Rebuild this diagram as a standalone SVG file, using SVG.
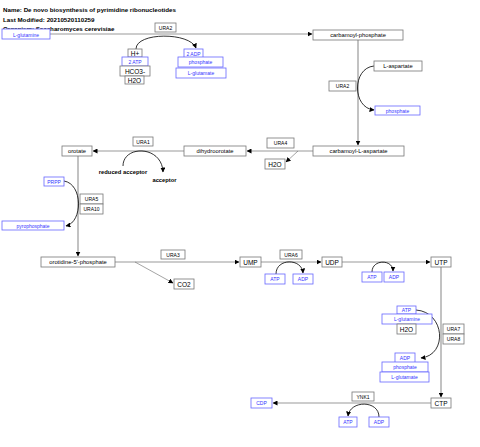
<svg xmlns="http://www.w3.org/2000/svg" width="480" height="447" viewBox="0 0 480 447">
<style>
rect{fill:#fff;stroke:#777;stroke-width:0.8}
rect.b{stroke:#6666ff}
text{font-family:"Liberation Sans",Arial,sans-serif;font-size:5px;text-anchor:middle;fill:#000}
text.bt{fill:#3333ff}
text.m{font-size:5.8px}
text.l{font-size:6.5px}
text.t{font-size:6.2px;font-weight:bold;text-anchor:start}
text.bold{font-size:5.8px;font-weight:bold}
.main{fill:none;stroke:#999;stroke-width:1.2}
.thin{fill:none;stroke:#666;stroke-width:0.6}
.cur{fill:none;stroke:#000;stroke-width:0.8}
</style>
<defs>
<marker id="a" viewBox="0 0 10 10" refX="9" refY="5" markerWidth="5" markerHeight="5" orient="auto" markerUnits="userSpaceOnUse"><path d="M0,0L10,5L0,10z" fill="#000"/></marker>
</defs>
<rect x="0" y="0" width="480" height="447" style="fill:#fff;stroke:none"/>
<g id="title">
<text class="t" x="3" y="12">Name: De novo biosynthesis of pyrimidine ribonucleotides</text>
<text class="t" x="3" y="22">Last Modified: 20210520110259</text>
<text class="t" x="3" y="31">Organism: Saccharomyces cerevisiae</text>
</g>
<g id="connectors">
<path class="main" d="M50,34H312" marker-end="url(#a)"/>
<path class="cur" d="M136,49C136,32 190,32 196,48" marker-end="url(#a)"/>
<path class="main" d="M358,40V145" marker-end="url(#a)"/>
<path class="cur" d="M374,66C352,68 352,108 374,110" marker-end="url(#a)"/>
<path class="main" d="M313,151H247" marker-end="url(#a)"/>
<path class="thin" d="M298,151L286,162" marker-end="url(#a)"/>
<path class="main" d="M184,151H93" marker-end="url(#a)"/>
<path class="cur" d="M123,166C123,145 162,145 163,172" marker-end="url(#a)"/>
<path class="main" d="M78,156V256" marker-end="url(#a)"/>
<path class="cur" d="M64,181C83,184 83,222 66,226" marker-end="url(#a)"/>
<path class="main" d="M115,262H239" marker-end="url(#a)"/>
<path class="thin" d="M135,262L173,283" marker-end="url(#a)"/>
<path class="main" d="M261,262H321" marker-end="url(#a)"/>
<path class="cur" d="M276,274C276,258 302,258 303,273" marker-end="url(#a)"/>
<path class="main" d="M342,262H430" marker-end="url(#a)"/>
<path class="cur" d="M372,272C372,259 393,259 393,271" marker-end="url(#a)"/>
<path class="main" d="M441,267V397" marker-end="url(#a)"/>
<path class="cur" d="M416,310C445,312 448,355 421,358" marker-end="url(#a)"/>
<path class="main" d="M431,403H273" marker-end="url(#a)"/>
<path class="cur" d="M379,417C379,400 350,400 348,416" marker-end="url(#a)"/>
</g>
<g id="L-glutamine-top"><rect class="b" x="2" y="29" width="48" height="10"/><text class="bt" x="26" y="36.5">L-glutamine</text></g>
<g id="URA2-a"><rect x="155" y="23" width="21" height="9"/><text x="165.5" y="29.5">URA2</text></g>
<g id="Hplus"><rect x="128" y="49" width="14" height="8"/><text class="l" x="135" y="55.5">H+</text></g>
<g id="ATP2"><rect class="b" x="122" y="57" width="26" height="9"/><text class="bt" x="135" y="63.5">2 ATP</text></g>
<g id="HCO3"><rect x="120" y="66" width="30" height="10"/><text class="l" x="135" y="73.5">HCO3-</text></g>
<g id="H2O-a"><rect x="125" y="76" width="19" height="8"/><text class="l" x="134.5" y="82.5">H2O</text></g>
<g id="ADP2"><rect class="b" x="184" y="49" width="19" height="9"/><text class="bt" x="193.5" y="55.5">2 ADP</text></g>
<g id="phosphate-a"><rect class="b" x="178" y="57" width="45" height="10"/><text class="bt" x="200.5" y="64">phosphate</text></g>
<g id="L-glutamate-a"><rect class="b" x="176" y="68" width="50" height="10"/><text class="bt" x="201" y="75">L-glutamate</text></g>
<g id="carbamoyl-phosphate"><rect x="313" y="30" width="90" height="10"/><text class="m" x="358" y="37">carbamoyl-phosphate</text></g>
<g id="L-aspartate"><rect x="374" y="61" width="48" height="10"/><text class="m" x="398" y="68">L-aspartate</text></g>
<g id="URA2-b"><rect x="329" y="81" width="27" height="10"/><text x="342.5" y="88">URA2</text></g>
<g id="phosphate-b"><rect class="b" x="375" y="106" width="45" height="9"/><text class="bt" x="397.5" y="112.5">phosphate</text></g>
<g id="carbamoyl-L-aspartate"><rect x="313" y="146" width="91" height="10"/><text class="m" x="358.5" y="153">carbamoyl-L-aspartate</text></g>
<g id="URA4"><rect x="267" y="138" width="27" height="10"/><text x="280.5" y="145">URA4</text></g>
<g id="H2O-b"><rect x="265" y="159" width="20" height="10"/><text class="l" x="275" y="166.5">H2O</text></g>
<g id="dihydroorotate"><rect x="184" y="146" width="62" height="10"/><text class="m" x="215" y="153">dihydroorotate</text></g>
<g id="orotate"><rect x="62" y="146" width="30" height="10"/><text class="m" x="77" y="153">orotate</text></g>
<g id="URA1"><rect x="133" y="137" width="20" height="9"/><text x="143" y="143.5">URA1</text></g>
<g id="reduced-acceptor"><text class="bold" x="123" y="174">reduced acceptor</text></g>
<g id="acceptor"><text class="bold" x="164.5" y="182">acceptor</text></g>
<g id="PRPP"><rect class="b" x="44" y="177" width="20" height="9"/><text class="bt" x="54" y="183.5">PRPP</text></g>
<g id="URA5"><rect x="80" y="194" width="23" height="10"/><text x="91.5" y="201">URA5</text></g>
<g id="URA10"><rect x="80" y="204" width="23" height="10"/><text x="91.5" y="211">URA10</text></g>
<g id="pyrophosphate"><rect class="b" x="2" y="221" width="62" height="9"/><text class="bt" x="33" y="227.5">pyrophosphate</text></g>
<g id="orotidine-5-phosphate"><rect x="41" y="257" width="74" height="10"/><text class="m" x="78" y="264">orotidine-5'-phosphate</text></g>
<g id="URA3"><rect x="161" y="250" width="24" height="9"/><text x="173" y="256.5">URA3</text></g>
<g id="CO2"><rect x="174" y="279" width="20" height="10"/><text class="l" x="184" y="286.5">CO2</text></g>
<g id="UMP"><rect x="240" y="257" width="21" height="10"/><text class="l" x="250.5" y="264.5">UMP</text></g>
<g id="URA6"><rect x="280" y="250" width="22" height="9"/><text x="291" y="256.5">URA6</text></g>
<g id="ATP-a"><rect class="b" x="265" y="274" width="20" height="10"/><text class="bt" x="275" y="281">ATP</text></g>
<g id="ADP-a"><rect class="b" x="293" y="274" width="20" height="10"/><text class="bt" x="303" y="281">ADP</text></g>
<g id="UDP"><rect x="322" y="257" width="20" height="10"/><text class="l" x="332" y="264.5">UDP</text></g>
<g id="ATP-b"><rect class="b" x="362" y="272" width="20" height="10"/><text class="bt" x="372" y="279">ATP</text></g>
<g id="ADP-b"><rect class="b" x="384" y="272" width="20" height="10"/><text class="bt" x="394" y="279">ADP</text></g>
<g id="UTP"><rect x="431" y="257" width="20" height="10"/><text class="l" x="441" y="264.5">UTP</text></g>
<g id="ATP-c"><rect class="b" x="397" y="306" width="19" height="8"/><text class="bt" x="406.5" y="312">ATP</text></g>
<g id="L-glutamine-b"><rect class="b" x="382" y="314" width="50" height="10"/><text class="bt" x="407" y="321">L-glutamine</text></g>
<g id="H2O-c"><rect x="397" y="324" width="19" height="10"/><text class="l" x="406.5" y="331.5">H2O</text></g>
<g id="URA7"><rect x="443" y="324" width="21" height="10"/><text x="453.5" y="331">URA7</text></g>
<g id="URA8"><rect x="443" y="334" width="21" height="10"/><text x="453.5" y="341">URA8</text></g>
<g id="ADP-c"><rect class="b" x="395" y="353" width="20" height="10"/><text class="bt" x="405" y="360">ADP</text></g>
<g id="phosphate-c"><rect class="b" x="382" y="362" width="46" height="10"/><text class="bt" x="405" y="369">phosphate</text></g>
<g id="L-glutamate-c"><rect class="b" x="380" y="372" width="49" height="10"/><text class="bt" x="404.5" y="379">L-glutamate</text></g>
<g id="CTP"><rect x="431" y="398" width="20" height="10"/><text class="l" x="441" y="405.5">CTP</text></g>
<g id="CDP"><rect class="b" x="251" y="398" width="21" height="10"/><text class="bt" x="261.5" y="405">CDP</text></g>
<g id="YNK1"><rect x="352" y="392" width="22" height="9"/><text x="363" y="398.5">YNK1</text></g>
<g id="ATP-d"><rect class="b" x="339" y="417" width="18" height="10"/><text class="bt" x="348" y="424">ATP</text></g>
<g id="ADP-d"><rect class="b" x="369" y="417" width="20" height="10"/><text class="bt" x="379" y="424">ADP</text></g>
</svg>
